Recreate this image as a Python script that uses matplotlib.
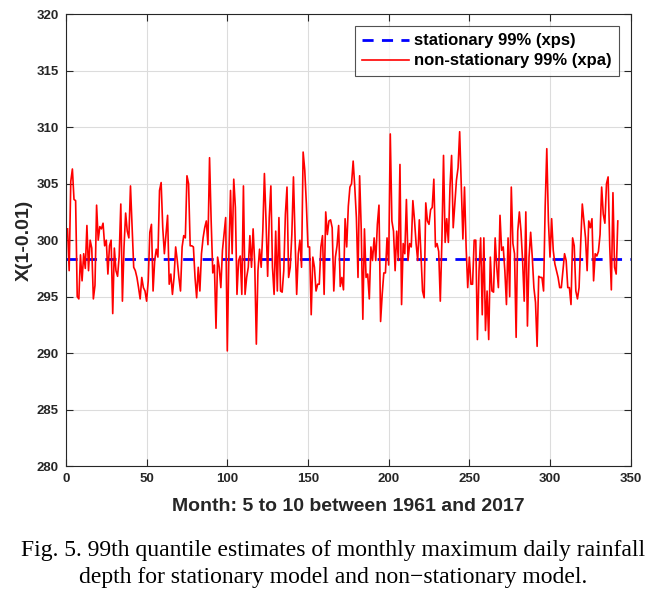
import numpy as np
import matplotlib
matplotlib.use('Agg')
import matplotlib.pyplot as plt

# 99% quantile estimates, one value per month (May-Oct, 1961-2017)
xpa = [
    301.0, 297.3, 305.2, 306.3, 303.6, 303.5, 295.0, 294.8, 298.7, 296.4,
    298.8, 297.5, 301.3, 297.3, 300.0, 299.3, 294.8, 296.0, 303.1, 300.0,
    301.2, 301.0, 301.5, 299.5, 300.0, 297.0, 299.5, 300.0, 293.5, 299.3,
    297.3, 296.8, 298.6, 303.2, 294.6, 299.4, 302.4, 300.8, 300.2, 304.8,
    301.1, 297.6, 297.3, 296.7, 295.8, 294.8, 296.7, 295.8, 295.5, 294.6,
    296.4, 300.7, 301.4, 295.5, 298.2, 299.2, 298.5, 304.4, 305.1, 301.1,
    298.8, 300.5, 302.2, 296.1, 297.0, 295.2, 296.7, 299.4, 298.2, 296.7,
    295.5, 299.4, 300.4, 300.2, 305.7, 305.0, 299.5, 299.5, 299.4, 296.7,
    294.9, 297.6, 295.5, 298.8, 300.2, 301.1, 301.7, 299.6, 307.3, 301.7,
    297.1, 297.8, 292.2, 298.5, 297.6, 295.8, 299.1, 300.6, 302.0, 290.2,
    298.8, 304.4, 298.8, 305.4, 302.9, 295.2, 298.2, 298.6, 295.2, 304.8,
    295.2, 296.7, 297.6, 300.4, 297.6, 301.0, 297.9, 290.8, 297.3, 299.2,
    297.6, 300.8, 305.9, 301.7, 296.8, 302.0, 304.8, 297.6, 295.2, 300.8,
    295.5, 302.0, 295.5, 295.4, 297.3, 302.3, 304.7, 296.7, 297.6, 300.5,
    305.6, 300.2, 295.2, 298.8, 300.0, 297.6, 307.8, 306.2, 303.2, 299.4,
    299.4, 293.4, 298.5, 297.6, 295.5, 296.1, 296.1, 299.4, 300.4, 295.2,
    302.5, 300.5, 301.7, 301.8, 301.1, 295.5, 298.5, 299.5, 301.3, 295.9,
    296.7, 295.6, 301.9, 299.4, 303.0, 304.7, 305.0, 307.0, 304.7, 302.0,
    296.7, 305.7, 301.0, 293.0, 301.0, 296.7, 297.0, 294.8, 299.4, 298.2,
    300.2, 298.2, 301.4, 303.1, 292.8, 295.2, 297.1, 297.1, 300.2, 297.8,
    309.4, 301.7, 300.8, 297.3, 300.8, 298.2, 306.7, 294.3, 299.7, 298.8,
    303.6, 298.2, 299.7, 299.4, 303.5, 301.8, 299.7, 298.2, 301.8, 298.8,
    295.5, 294.9, 303.3, 301.7, 301.4, 302.7, 302.9, 305.4, 299.4, 299.7,
    299.0, 294.6, 300.0, 307.5, 299.8, 301.9, 299.8, 304.7, 307.5, 301.1,
    303.2, 305.3, 306.4, 309.6, 304.7, 300.1, 304.7, 299.4, 295.8, 298.5,
    296.1, 296.1, 300.0, 300.0, 291.2, 297.3, 300.2, 293.4, 300.2, 292.0,
    295.5, 291.2, 298.5, 295.5, 295.4, 300.2, 297.6, 295.8, 302.2, 299.1,
    299.4, 297.3, 294.3, 300.2, 295.0, 304.7, 299.7, 298.8, 291.4, 300.8,
    302.5, 300.8, 298.2, 294.6, 302.5, 292.4, 298.5, 300.7, 298.5, 295.8,
    294.5, 290.6, 296.8, 296.7, 296.7, 295.5, 303.0, 308.1, 301.7, 298.5,
    301.9, 299.1, 297.9, 297.3, 296.7, 295.8, 295.8, 297.3, 298.8, 298.2,
    295.8, 295.8, 294.3, 300.2, 299.5, 295.5, 294.8, 295.8, 299.7, 303.2,
    301.7, 300.2, 297.3, 301.7, 301.1, 301.9, 296.4, 298.8, 298.6, 299.0,
    300.5, 304.7, 302.3, 301.5, 305.0, 305.6, 299.5, 295.6, 304.2, 297.6,
    297.0, 301.7,
]
xps = 298.3
months = np.arange(1, len(xpa) + 1)

x_ticks = [0, 50, 100, 150, 200, 250, 300, 350]
y_ticks = [280, 285, 290, 295, 300, 305, 310, 315, 320]

caption = ("Fig. 5. 99th quantile estimates of monthly maximum daily rainfall\n"
           "depth for stationary model and non\u2212stationary model.")

plt.rcParams['font.family'] = ['Liberation Sans', 'DejaVu Sans']

fig = plt.figure(figsize=(6.66, 5.93), dpi=100)
ax = fig.add_axes([0.099, 0.214, 0.848, 0.762])

ax.plot([0, 350], [xps, xps], '--', color='#0000ff', lw=2.0, dashes=(4, 3),
        label='stationary 99% (xps)')
ax.plot(months, xpa, '-', color='#ff0000', lw=1.2, label='non-stationary 99% (xpa)')

ax.set_xlim(0, 350)
ax.set_ylim(280, 320)
ax.set_xticks(x_ticks)
ax.set_yticks(y_ticks)
ax.grid(True, color='#dcdcdc', lw=0.8)
ax.set_axisbelow(True)
ax.tick_params(direction='in', top=True, right=True, length=5, width=0.8,
               colors='#262626', labelsize=9.5, pad=5)
for lab in ax.get_xticklabels() + ax.get_yticklabels():
    lab.set_fontweight('bold')
for s in ax.spines.values():
    s.set_color('#262626')
    s.set_linewidth(0.8)

ax.set_xlabel('Month: 5 to 10 between 1961 and 2017', fontsize=14,
              fontweight='bold', color='#262626', labelpad=9)
ax.set_ylabel('X(1-0.01)', fontsize=14, fontweight='bold', color='#262626', labelpad=3)

leg = ax.legend(loc='upper right', prop={'weight': 'bold', 'size': 12},
                handlelength=2.8, frameon=True, fancybox=False, edgecolor='#262626',
                borderaxespad=0.7, borderpad=0.45, labelspacing=0.3, handletextpad=0.3)
leg.get_frame().set_linewidth(0.8)

fig.text(0.5, 0.09, caption, ha='center', va='top', fontsize=17,
         family=['Liberation Serif', 'DejaVu Serif'], linespacing=1.4)

plt.savefig('out.png', dpi=100)
